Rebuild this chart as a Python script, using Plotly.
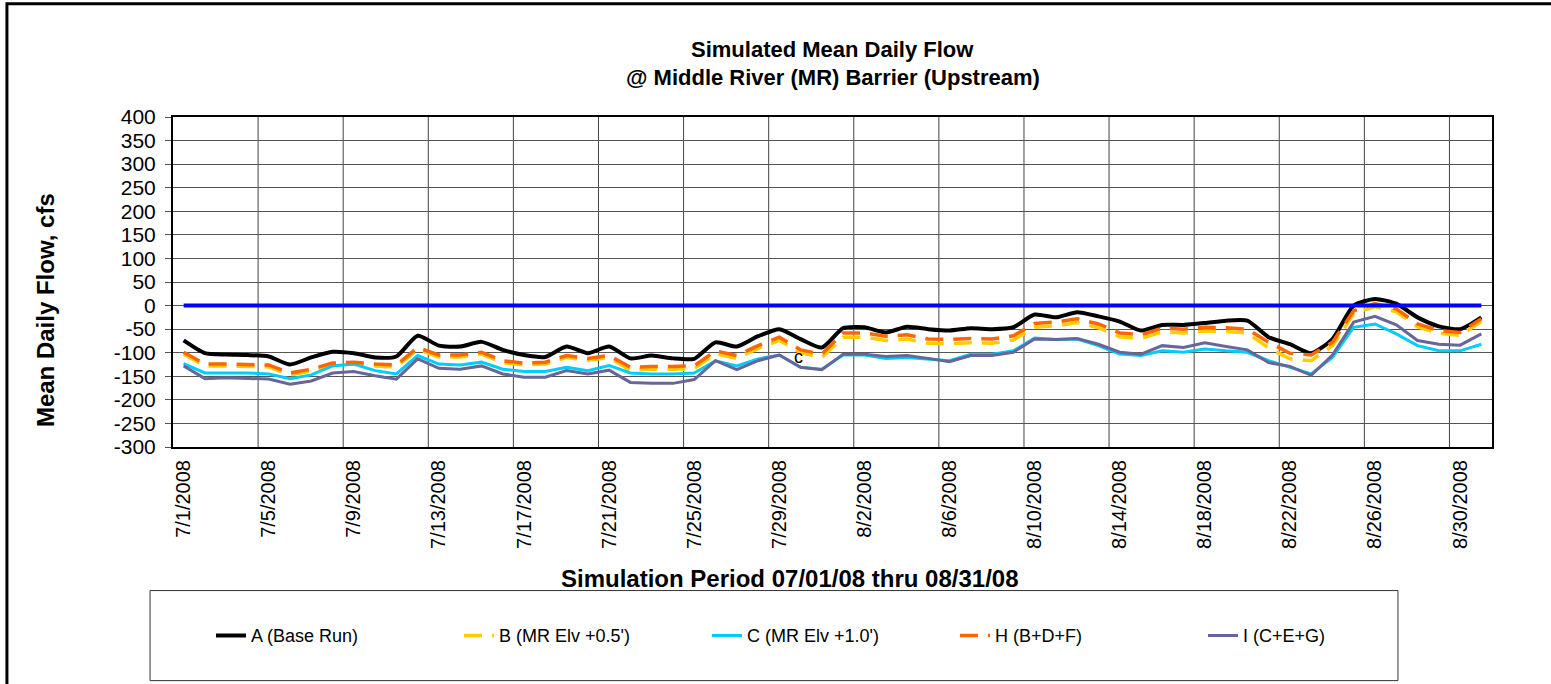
import plotly.graph_objects as go
import datetime as dt

# ---- data ----
start = dt.date(2008, 7, 1)
dates = [start + dt.timedelta(days=k) for k in range(62)]
date_labels = [f"{d.month}/{d.day}/{d.year}" for d in dates]
tick_every = 4
y_ticks = list(range(-300, 401, 50))
y_ticktext = [str(v) for v in y_ticks]

A_base = [-74, -101, -104, -105, -108, -125, -110, -98, -101, -110, -108, -64, -85, -87, -77, -94,
          -105, -109, -87, -101, -87, -112, -106, -112, -113, -78, -87, -65, -50, -71, -89, -48,
          -46, -57, -45, -50, -53, -48, -50, -46, -19, -25, -14, -23, -34, -53, -41, -41,
          -37, -32, -32, -67, -82, -101, -71, 0, 14, 4, -25, -44, -50, -25]
B_mr05 = [-103, -128, -128, -129, -130, -147, -139, -126, -124, -128, -130, -93, -109, -109, -103, -121,
          -126, -124, -110, -116, -110, -137, -135, -135, -134, -102, -112, -91, -74, -100, -110, -67,
          -67, -74, -71, -80, -81, -79, -80, -73, -46, -43, -36, -47, -66, -70, -56, -58,
          -54, -55, -58, -90, -113, -117, -85, -17, -2, -13, -45, -59, -63, -34]
C_mr10 = [-123, -143, -143, -143, -145, -155, -147, -128, -124, -138, -145, -106, -124, -126, -120, -135,
          -140, -140, -131, -138, -127, -143, -145, -145, -143, -117, -128, -113, -105, -131, -135, -105,
          -105, -112, -110, -113, -117, -103, -103, -96, -69, -72, -71, -85, -103, -106, -96, -99,
          -92, -96, -99, -117, -131, -145, -110, -46, -39, -60, -85, -96, -96, -82]
H_bdf = [-99, -124, -124, -125, -126, -143, -135, -122, -120, -124, -126, -89, -105, -105, -99, -117,
         -122, -120, -106, -112, -106, -131, -129, -129, -128, -96, -106, -85, -67, -94, -103, -58,
         -58, -65, -62, -71, -72, -70, -71, -64, -38, -35, -28, -39, -58, -62, -48, -50,
         -46, -47, -50, -78, -101, -105, -78, -11, 4, -7, -39, -53, -57, -28]
I_ceg = [-128, -155, -153, -154, -156, -167, -160, -143, -140, -149, -156, -113, -133, -135, -128, -145,
         -152, -152, -138, -145, -137, -163, -165, -165, -157, -117, -136, -117, -105, -131, -136, -103,
         -103, -108, -106, -112, -119, -106, -106, -99, -71, -72, -70, -82, -99, -103, -85, -89,
         -79, -87, -94, -121, -129, -148, -105, -35, -23, -41, -74, -82, -84, -60]
zero_line = [0] * 62

x = list(range(len(dates)))
FONT = "Arial, Liberation Sans, sans-serif"

fig = go.Figure()
fig.add_trace(go.Scatter(x=x, y=A_base, mode="lines", name="A (Base Run)",
                         line=dict(color="#000000", width=4, shape="spline", smoothing=0.6)))
fig.add_trace(go.Scatter(x=x, y=B_mr05, mode="lines", name="B (MR Elv +0.5')",
                         line=dict(color="#FFCC00", width=3.5, dash="18px,10px")))
fig.add_trace(go.Scatter(x=x, y=C_mr10, mode="lines", name="C (MR Elv +1.0')",
                         line=dict(color="#00CCFF", width=3)))
fig.add_trace(go.Scatter(x=x, y=H_bdf, mode="lines", name="H (B+D+F)",
                         line=dict(color="#FF6600", width=3.5, dash="18px,10px")))
fig.add_trace(go.Scatter(x=x, y=I_ceg, mode="lines", name="I (C+E+G)",
                         line=dict(color="#666699", width=3)))
fig.add_trace(go.Scatter(x=x, y=zero_line, mode="lines", name="zero", showlegend=False,
                         line=dict(color="#0000FF", width=4)))

tickvals = x[::tick_every]
ticktext = date_labels[::tick_every]

shapes = []
# vertical gridlines at category boundaries every 4 days
for k in range(tick_every, len(x), tick_every):
    shapes.append(dict(type="line", xref="x", yref="paper", x0=k - 0.5, x1=k - 0.5, y0=0, y1=1,
                       line=dict(color="#444444", width=1), layer="below"))
# legend box
shapes.append(dict(type="rect", xref="paper", yref="paper", x0=-0.0174, x1=0.9287, y0=-0.708, y1=-0.435,
                   line=dict(color="#333333", width=1)))
# outer chart border
shapes.append(dict(type="rect", xref="paper", yref="paper", x0=-0.1259, x1=1.06, y0=-0.9, y1=1.3435,
                   line=dict(color="#000000", width=3)))

fig.update_layout(
    width=1551, height=684,
    margin=dict(l=173, r=59, t=117, b=237),
    paper_bgcolor="white", plot_bgcolor="white",
    font=dict(family=FONT, color="#000000"),
    xaxis=dict(range=[-0.5, len(x) - 0.5], tickmode="array", tickvals=tickvals, ticktext=ticktext,
               tickangle=-90, tickfont=dict(size=20), showgrid=False, zeroline=False,
               showline=True, linecolor="#000000", linewidth=2, mirror=True,
               ticks="outside", ticklen=3, tickcolor="rgba(0,0,0,0)"),
    yaxis=dict(range=[-300, 400], tickmode="array", tickvals=y_ticks, ticktext=y_ticktext,
               tickfont=dict(size=21), showgrid=True,
               gridcolor="#555555", gridwidth=1, zeroline=False, showline=True,
               linecolor="#000000", linewidth=2, mirror=True, ticks="outside", ticklen=6,
               tickcolor="#555555", ticklabelstandoff=5),
    showlegend=True,
    legend=dict(orientation="h", x=0.0288, xanchor="left", y=-0.572, yanchor="middle",
                entrywidth=203, entrywidthmode="pixels", font=dict(size=18),
                bgcolor="rgba(0,0,0,0)", traceorder="normal"),
    shapes=shapes,
    annotations=[
        dict(text="<b>Simulated Mean Daily Flow</b>", xref="paper", yref="paper", x=0.5, y=1.2044,
             yanchor="middle", showarrow=False, font=dict(size=22)),
        dict(text="<b>@ Middle River (MR) Barrier (Upstream)</b>", xref="paper", yref="paper", x=0.5,
             y=1.1194, yanchor="middle", showarrow=False, font=dict(size=22)),
        dict(text="<b>Mean Daily Flow, cfs</b>", xref="paper", yref="paper", x=-0.097, y=0.415,
             xanchor="center", yanchor="middle",
             textangle=-90, showarrow=False, font=dict(size=24)),
        dict(text="<b>Simulation Period 07/01/08 thru 08/31/08</b>", xref="paper", yref="paper",
             x=0.468, y=-0.399, xanchor="center", yanchor="middle", showarrow=False,
             font=dict(size=24)),
        dict(text="c", xref="x", yref="y", x=28.9, y=-110, showarrow=False, font=dict(size=18)),
    ],
)

fig.write_html("out.html", config={"displayModeBar": False},
               post_script="document.body.style.margin='0px';")
